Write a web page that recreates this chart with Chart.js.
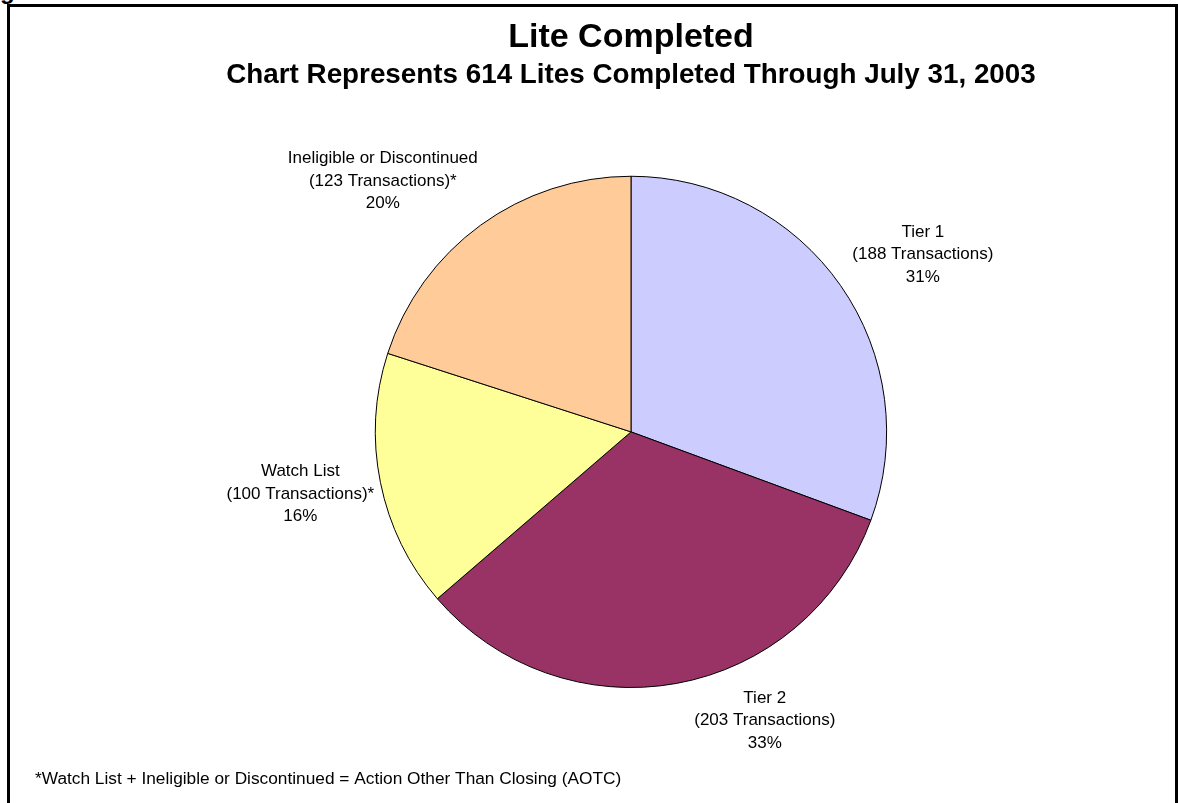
<!DOCTYPE html>
<html>
<head>
<meta charset="utf-8">
<script src="https://cdn.jsdelivr.net/npm/chart.js@4"></script>
<style>
  html, body { margin: 0; padding: 0; background: #fff; overflow: hidden; }
  #wrap { position: relative; width: 1178px; height: 803px; }
  #frame { position: absolute; left: 7px; top: 4px; width: 1171px; height: 900px;
           border: 3px solid #000; box-sizing: border-box; }
  #clip { position: absolute; left: 0; top: -23px; font: bold 24px 'Liberation Sans', Arial, sans-serif; }
  canvas { position: absolute; left: 0; top: 0; }
</style>
</head>
<body>
<div id="wrap">
  <div id="clip">g</div>
  <div id="frame"></div>
  <canvas id="pie" width="1178" height="803"></canvas>
</div>
<script>
const categories = ['Tier 1', 'Tier 2', 'Watch List', 'Ineligible or Discontinued'];
const transactions = [188, 203, 100, 123];
const aotc = [false, false, true, true];
const sliceColors = ['#CCCCFF', '#993366', '#FFFF99', '#FFCC99'];
const total = transactions.reduce((a, b) => a + b, 0);

// small nudges for the outside labels, in px
const labelNudge = [[12, -3], [73, -11], [7, 2], [-33, -5]];

const FONT = "'Liberation Sans', Arial, sans-serif";

const outsideLabels = {
	id: 'outsideLabels',
	afterDatasetsDraw(chart) {
		const ctx = chart.ctx;
		const meta = chart.getDatasetMeta(0);
		ctx.save();
		ctx.font = '17px ' + FONT;
		ctx.fillStyle = '#000';
		ctx.textAlign = 'center';
		ctx.textBaseline = 'middle';
		const lh = 22.5;
		meta.data.forEach((arc, i) => {
			const p = arc.getProps(['x', 'y', 'startAngle', 'endAngle', 'outerRadius'], true);
			const mid = (p.startAngle + p.endAngle) / 2;
			const dx = Math.cos(mid), dy = Math.sin(mid);
			const lines = [
				categories[i],
				'(' + transactions[i] + ' Transactions)' + (aotc[i] ? '*' : ''),
				Math.round(transactions[i] / total * 100) + '%'
			];
			const w = Math.max(...lines.map(t => ctx.measureText(t).width));
			const h = lines.length * lh;
			const r = p.outerRadius + 15;
			const cx = p.x + dx * r + dx * w / 2 + labelNudge[i][0];
			const cy = p.y + dy * r + dy * h / 2 + labelNudge[i][1];
			lines.forEach((t, k) => {
				ctx.fillText(t, cx, cy - h / 2 + lh / 2 + k * lh);
			});
		});
		// footnote
		ctx.font = '17.3px ' + FONT;
		ctx.textAlign = 'left';
		ctx.fillText('*Watch List + Ineligible or Discontinued = Action Other Than Closing (AOTC)', 35, 779);
		ctx.restore();
	}
};

new Chart(document.getElementById('pie'), {
	type: 'pie',
	data: {
		labels: categories,
		datasets: [{
			data: transactions,
			backgroundColor: sliceColors,
			borderColor: '#000',
			borderWidth: 1
		}]
	},
	options: {
		responsive: false,
		animation: false,
		layout: {
			padding: { top: 5, left: 84, right: 0, bottom: 115 }
		},
		plugins: {
			legend: { display: false },
			tooltip: { enabled: false },
			title: {
				display: true,
				text: 'Lite Completed',
				color: '#000',
				font: { family: FONT, size: 34, weight: 'bold', lineHeight: 1.2 },
				padding: { top: 12, bottom: 0 }
			},
			subtitle: {
				display: true,
				text: 'Chart Represents 614 Lites Completed Through July 31, 2003',
				color: '#000',
				font: { family: FONT, size: 27.8, weight: 'bold', lineHeight: 1.2 },
				padding: { top: 1, bottom: 83.6 }
			}
		}
	},
	plugins: [outsideLabels]
});
</script>
</body>
</html>
